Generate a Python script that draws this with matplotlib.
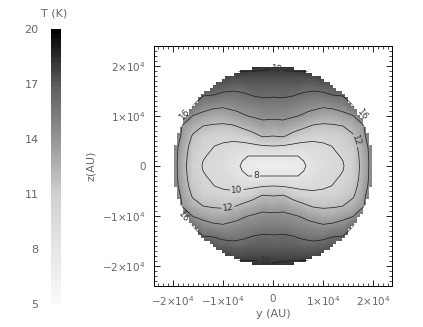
import matplotlib
matplotlib.use('Agg')
import matplotlib.pyplot as plt
from matplotlib.colors import LinearSegmentedColormap
from matplotlib.patches import Circle
from matplotlib.ticker import MultipleLocator
import numpy as np

# T (K), one list per y (x 1e4 AU), along Z_STEPS
Y_STEPS = [0, 0.2, 0.4, 0.5, 0.6, 0.7, 0.8, 1.0, 1.2, 1.4, 1.6, 1.8, 2.0, 2.2]
Z_STEPS = [0, 0.1, 0.2, 0.3, 0.4, 0.6, 0.8, 1.0, 1.2, 1.4, 1.6, 1.8, 2.0, 2.2]
T_Y00 = [7.0, 7.4, 8.0, 9.0, 10.0, 12.0, 13.25, 14.35, 15.2, 16.1, 16.8, 17.5, 18.2, 18.9]
T_Y02 = [7.0, 7.4, 8.0, 8.95, 9.9, 12.2, 13.4, 14.4, 15.3, 16.15, 16.85, 17.65, 18.3, 19.0]
T_Y04 = [7.1, 7.45, 8.0, 8.8, 9.65, 11.4, 13.0, 14.15, 15.05, 16.0, 16.85, 17.65, 18.4, 19.0]
T_Y05 = [7.3, 7.55, 8.0, 8.7, 9.55, 11.1, 12.7, 14.0, 14.9, 15.85, 16.7, 17.6, 18.4, 19.0]
T_Y06 = [7.7, 7.95, 8.4, 8.9, 9.5, 10.9, 12.4, 13.8, 14.8, 15.7, 16.6, 17.6, 18.5, 19.0]
T_Y07 = [8.2, 8.3, 8.6, 9.0, 9.5, 10.7, 12.1, 13.5, 14.65, 15.6, 16.55, 17.55, 18.5, 19.0]
T_Y08 = [8.6, 8.7, 8.9, 9.2, 9.5, 10.6, 11.85, 13.3, 14.5, 15.5, 16.5, 17.5, 18.5, 19.0]
T_Y10 = [9.2, 9.3, 9.4, 9.55, 9.75, 10.55, 11.7, 13.0, 14.2, 15.5, 16.8, 17.8, 18.5, 19.0]
T_Y12 = [9.65, 9.72, 9.8, 9.9, 10.05, 10.9, 11.8, 13.0, 14.4, 15.9, 17.0, 17.6, 18.0, 18.5]
T_Y14 = [9.9, 10.0, 10.1, 10.3, 10.5, 11.2, 12.0, 13.5, 14.7, 16.0, 17.2, 17.6, 18.0, 18.5]
T_Y16 = [10.9, 10.95, 11.0, 11.15, 11.3, 11.8, 12.7, 13.9, 15.9, 17.0, 17.5, 17.8, 18.0, 18.5]
T_Y18 = [12.6, 12.65, 12.7, 12.8, 12.9, 13.3, 13.7, 15.9, 17.0, 17.4, 17.7, 17.9, 18.0, 18.5]
T_Y20 = [15.0, 15.0, 15.0, 15.1, 15.2, 16.2, 17.0, 17.5, 17.7, 17.8, 17.9, 18.0, 18.2, 18.5]
T_Y22 = [16.0, 16.0, 16.0, 16.1, 16.2, 16.8, 17.3, 17.7, 17.8, 17.9, 18.0, 18.1, 18.3, 18.5]

CONTOUR_LEVELS = [8, 10, 12, 14, 16, 18]
CBAR_TICKS = [5, 8, 11, 14, 17, 20]
AXIS_TICKS = [-2, -1, 0, 1, 2]
AXIS_TICK_LABELS = ['$-2{\\times}10^4$', '$-1{\\times}10^4$', '0', '$1{\\times}10^4$', '$2{\\times}10^4$']

# gray levels of the colour bar at 5, 8, 11, 14, 17, 20 K
CBAR_GRAYS = [250, 230, 208, 150, 92, 0]

CLABEL_POS = [(-0.34, -0.2), (-0.72, -0.52), (-0.9, -0.84), (-1.77, -1.0),
              (-0.16, -1.94), (0.08, 1.96), (1.68, 0.52), (1.77, 1.0), (-1.72, 1.0)]

W, H = 423, 327
TEXT_COLOR = '#666666'
FONT_SIZE = 8


def px_axes(fig, left, top, right, bottom):
    """axes from pixel edges, top-left origin"""
    return fig.add_axes([left / W, 1 - bottom / H, (right - left) / W, (bottom - top) / H])


def main():
    plt.rcParams['font.family'] = 'DejaVu Sans'
    plt.rcParams['font.size'] = FONT_SIZE
    plt.rcParams['mathtext.default'] = 'regular'

    fig = plt.figure(figsize=(W / 100, H / 100), dpi=100)

    nodes = [(v - 5) / 15 for v in CBAR_TICKS]
    grays = [str(g / 255) for g in CBAR_GRAYS]
    cmap = LinearSegmentedColormap.from_list('t_gray', list(zip(nodes, grays)), N=58)

    # mirror the quadrant into the whole disc
    quad = np.column_stack([T_Y00, T_Y02, T_Y04, T_Y05, T_Y06, T_Y07, T_Y08, T_Y10,
                            T_Y12, T_Y14, T_Y16, T_Y18, T_Y20, T_Y22])
    top = np.hstack([quad[:, :0:-1], quad])
    temp = np.vstack([top[:0:-1], top])
    y_steps = np.array(Y_STEPS)
    z_steps = np.array(Z_STEPS)
    ys = np.concatenate([-y_steps[:0:-1], y_steps])
    zs = np.concatenate([-z_steps[:0:-1], z_steps])

    # --- main panel ---
    ax = px_axes(fig, 154, 46, 392, 286)
    ax.pcolormesh(ys, zs, temp, cmap=cmap, vmin=5, vmax=20, shading='gouraud', zorder=1)

    # blocky edge of the disc, cells of about 3 px
    edges = np.arange(-2.4, 2.4001, 0.06)
    mids = (edges[:-1] + edges[1:]) / 2
    yy, zz = np.meshgrid(mids, mids)
    outside = np.ma.masked_where(np.hypot(yy, zz) <= 2.0, np.ones_like(yy))
    ax.pcolormesh(edges, edges, outside, cmap='gray', vmin=0, vmax=1, zorder=2)

    cs = ax.contour(ys, zs, temp, levels=CONTOUR_LEVELS, colors='#1a1a1a',
                    linewidths=0.5, zorder=3)
    disc = Circle((0, 0), 2.01, transform=ax.transData)
    cs.set_clip_path(disc)
    labels = ax.clabel(cs, fmt='%d', fontsize=6.5, manual=CLABEL_POS, inline=True, inline_spacing=1)
    for t in labels:
        t.set_color('#333333')

    ax.set_xlim(-2.38, 2.38)
    ax.set_ylim(-2.4, 2.4)
    ax.set_aspect('auto')
    ax.set_axisbelow(False)  # ticks have to sit on top of the white mask
    ax.set_xticks(AXIS_TICKS, AXIS_TICK_LABELS, fontsize=7.5)
    ax.set_yticks(AXIS_TICKS, AXIS_TICK_LABELS, fontsize=7.5)
    ax.xaxis.set_minor_locator(MultipleLocator(0.1))
    ax.yaxis.set_minor_locator(MultipleLocator(0.1))
    ax.tick_params(which='major', direction='in', length=4, width=0.6, top=True, right=True,
                   labelcolor=TEXT_COLOR, pad=6)
    ax.tick_params(which='minor', direction='in', length=2, width=0.5, top=True, right=True)
    for sp in ax.spines.values():
        sp.set_linewidth(0.7)
    ax.set_xlabel('y (AU)', color=TEXT_COLOR)
    ax.set_ylabel('z(AU)', color=TEXT_COLOR)
    ax.xaxis.set_label_coords(0.5, -23 / 240)
    ax.yaxis.set_label_coords(-58 / 238, 0.5)

    # --- colour bar ---
    cax = px_axes(fig, 51, 29, 61, 304)
    cax.imshow(np.linspace(5, 20, 58)[:, None], origin='lower', aspect='auto',
               extent=(0, 1, 5, 20), cmap=cmap, vmin=5, vmax=20, interpolation='nearest')
    cax.set_xticks([])
    cax.set_yticks(CBAR_TICKS)
    cax.tick_params(axis='y', length=0, labelcolor=TEXT_COLOR, pad=9)
    for sp in cax.spines.values():
        sp.set_visible(False)
    fig.text(54 / W, 1 - 14 / H, 'T (K)', color=TEXT_COLOR, ha='center', va='center')

    fig.savefig('out.png', dpi=100)
    plt.close(fig)


if __name__ == "__main__":
    main()
